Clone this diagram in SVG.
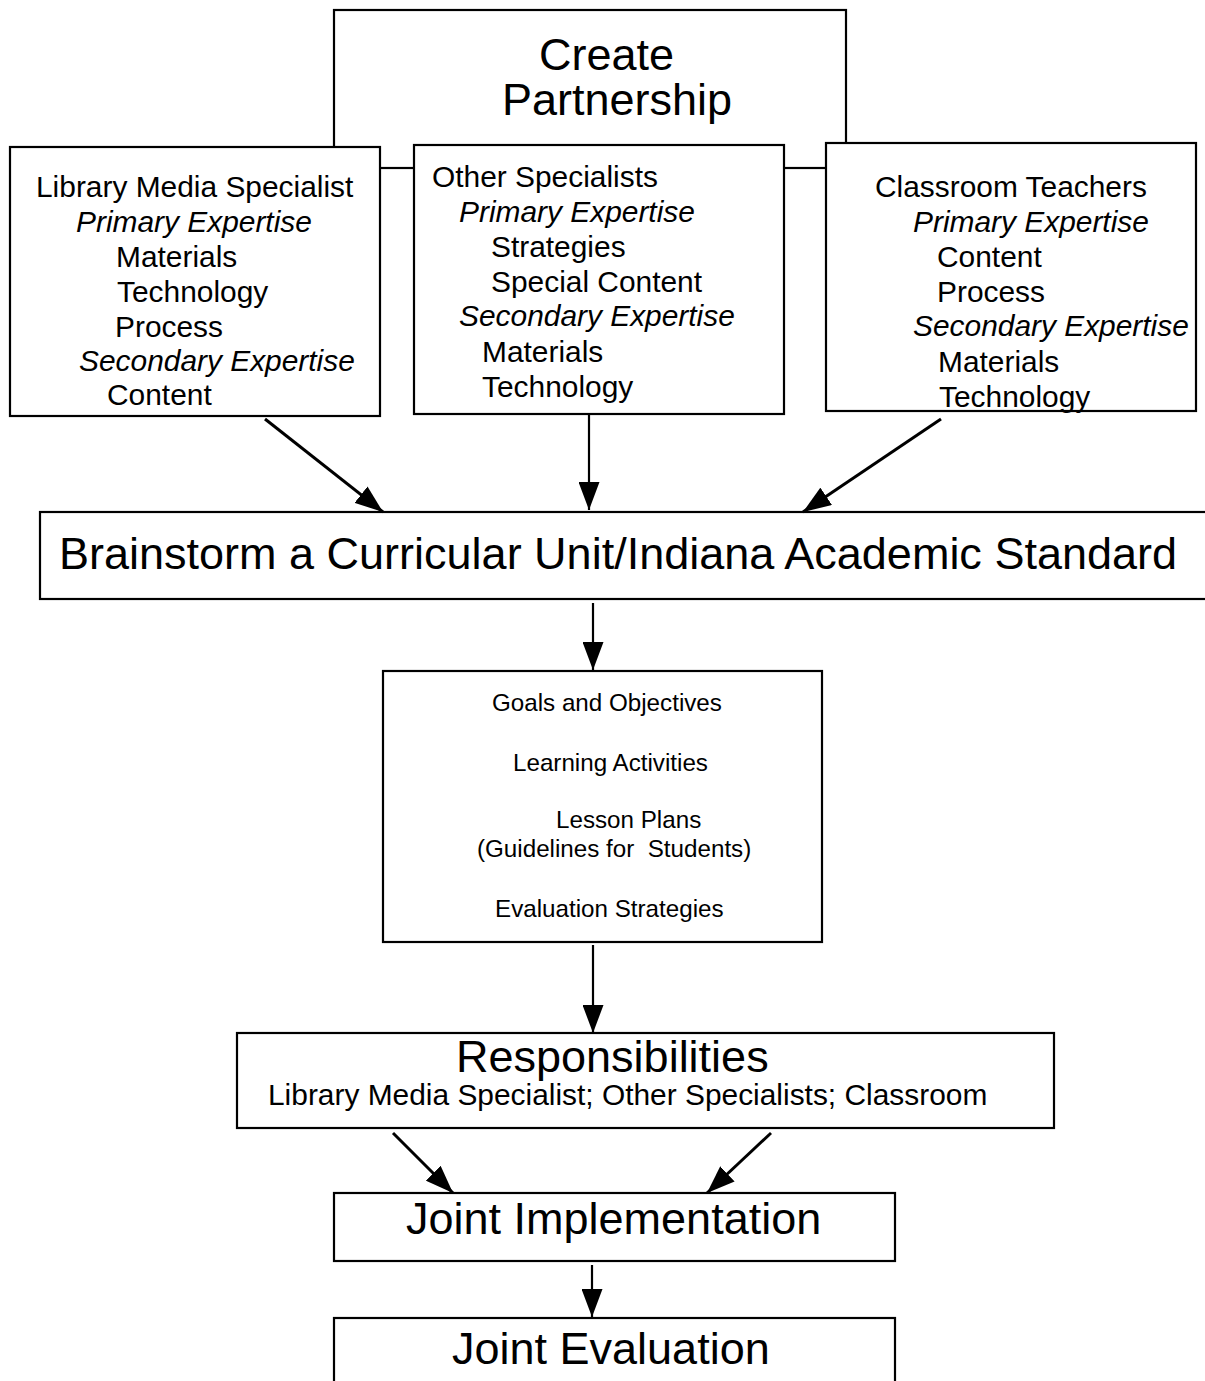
<svg xmlns="http://www.w3.org/2000/svg" width="1205" height="1381" viewBox="0 0 1205 1381">
  <style>
    .box { fill: #ffffff; stroke: #000000; stroke-width: 2.2; }
    .frame { fill: none; stroke: #000000; stroke-width: 2.2; }
    .txt { font-family: "Liberation Sans", Arial, Helvetica, sans-serif; fill: #000000; }
    .big { font-size: 45px; }
    .mid { font-size: 29.9px; }
    .small { font-size: 24.2px; }
    .it { font-style: italic; }
    .link { fill: none; stroke: #000000; marker-end: url(#head); }
    .thick { stroke-width: 3; }
    .thin { stroke-width: 2.2; }
  </style>
  <defs>
    <marker id="head" viewBox="0 0 28 21" refX="28" refY="10.5" markerWidth="28" markerHeight="21" markerUnits="userSpaceOnUse" orient="auto">
      <path d="M0,0 L28,10.5 L0,21 Z" fill="#000000"/>
    </marker>
  </defs>

  <rect width="1205" height="1381" fill="#ffffff"/>

  <!-- Top node: Create Partnership (its lower part sits behind the three partner boxes) -->
  <g id="create-partnership">
    <rect class="frame" x="334" y="10" width="512" height="158"/>
    <text class="txt big" x="539" y="70">Create</text>
    <text class="txt big" x="502" y="115">Partnership</text>
  </g>

  <!-- Partner: Library Media Specialist -->
  <g id="library-media-specialist">
    <rect class="box" x="10" y="147" width="370" height="269"/>
    <text class="txt mid" x="36" y="197">Library Media Specialist</text>
    <text class="txt mid it" x="76" y="232">Primary Expertise</text>
    <text class="txt mid" x="116" y="267">Materials</text>
    <text class="txt mid" x="117" y="302">Technology</text>
    <text class="txt mid" x="115" y="337">Process</text>
    <text class="txt mid it" x="79" y="371">Secondary Expertise</text>
    <text class="txt mid" x="107" y="405">Content</text>
  </g>

  <!-- Partner: Other Specialists -->
  <g id="other-specialists">
    <rect class="box" x="414" y="145" width="370" height="269"/>
    <text class="txt mid" x="432" y="187">Other Specialists</text>
    <text class="txt mid it" x="459" y="222">Primary Expertise</text>
    <text class="txt mid" x="491" y="257">Strategies</text>
    <text class="txt mid" x="491" y="292">Special Content</text>
    <text class="txt mid it" x="459" y="326">Secondary Expertise</text>
    <text class="txt mid" x="482" y="362">Materials</text>
    <text class="txt mid" x="482" y="397">Technology</text>
  </g>

  <!-- Partner: Classroom Teachers -->
  <g id="classroom-teachers">
    <rect class="box" x="826" y="143" width="370" height="268"/>
    <text class="txt mid" x="875" y="197">Classroom Teachers</text>
    <text class="txt mid it" x="913" y="232">Primary Expertise</text>
    <text class="txt mid" x="937" y="267">Content</text>
    <text class="txt mid" x="937" y="302">Process</text>
    <text class="txt mid it" x="913" y="336">Secondary Expertise</text>
    <text class="txt mid" x="938" y="372">Materials</text>
    <text class="txt mid" x="939" y="407">Technology</text>
  </g>

  <!-- Brainstorm step (runs past the right edge) -->
  <g id="brainstorm">
    <rect class="box" x="40" y="512" width="1175" height="87"/>
    <text class="txt big" x="59" y="569">Brainstorm a Curricular Unit/Indiana Academic Standard</text>
  </g>

  <!-- Planning contents -->
  <g id="planning">
    <rect class="box" x="383" y="671" width="439" height="271"/>
    <text class="txt small" x="492" y="711">Goals and Objectives</text>
    <text class="txt small" x="513" y="771">Learning Activities</text>
    <text class="txt small" x="556" y="828">Lesson Plans</text>
    <text class="txt small" x="477" y="857" xml:space="preserve">(Guidelines for  Students)</text>
    <text class="txt small" x="495" y="917">Evaluation Strategies</text>
  </g>

  <!-- Responsibilities -->
  <g id="responsibilities">
    <rect class="box" x="237" y="1033" width="817" height="95"/>
    <text class="txt big" x="456" y="1072">Responsibilities</text>
    <text class="txt mid" x="268" y="1105">Library Media Specialist; Other Specialists; Classroom</text>
  </g>

  <!-- Joint Implementation -->
  <g id="joint-implementation">
    <rect class="box" x="334" y="1193" width="561" height="68"/>
    <text class="txt big" x="406" y="1234">Joint Implementation</text>
  </g>

  <!-- Joint Evaluation (runs past the bottom edge) -->
  <g id="joint-evaluation">
    <rect class="box" x="334" y="1318" width="561" height="90"/>
    <text class="txt big" x="452" y="1364">Joint Evaluation</text>
  </g>

  <!-- Connectors -->
  <g id="connectors">
    <line class="link thick" x1="265" y1="419" x2="383" y2="512"/>
    <line class="link thin" x1="589" y1="415" x2="589" y2="510"/>
    <line class="link thick" x1="941" y1="419" x2="803" y2="512"/>
    <line class="link thin" x1="593" y1="603" x2="593" y2="670"/>
    <line class="link thin" x1="593" y1="945" x2="593" y2="1033"/>
    <line class="link thick" x1="393" y1="1133" x2="453" y2="1193"/>
    <line class="link thick" x1="771" y1="1133" x2="707" y2="1193"/>
    <line class="link thin" x1="592" y1="1265" x2="592" y2="1317"/>
  </g>
</svg>
